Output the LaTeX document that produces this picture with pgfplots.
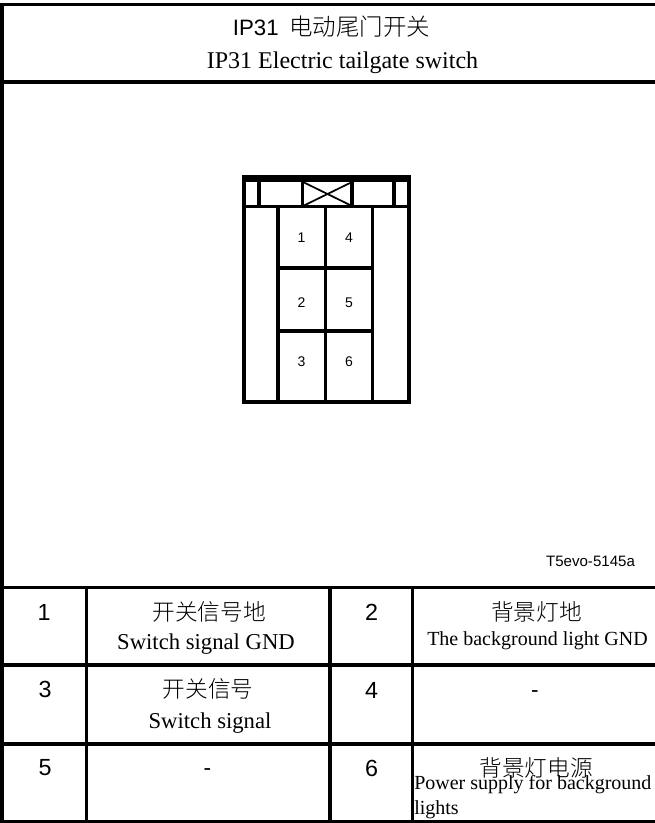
\documentclass[border=0pt]{standalone}
\usepackage{pgfplots}
\pgfplotsset{compat=1.18}
\usepackage{fontspec}
\setmainfont{Liberation Serif}
\newfontfamily\cjk{Noto Sans CJK SC}[UprightFont={* Light}]
\newfontfamily\hv{Liberation Sans}
\newcommand{\T}[4]{\node[inner sep=0pt,#1] at (axis cs:#2,#3) {#4};}
\begin{document}
\begin{tikzpicture}
\useasboundingbox (0,0) rectangle (491.25pt,617.25pt);
\begin{axis}[at={(0,0)},anchor=south west,scale only axis,width=491.25pt,height=617.25pt,
  xmin=0,xmax=655,ymin=0,ymax=823,y dir=reverse,hide axis,clip=false]
% table frame
\addplot[black,line width=2.5pt,line cap=square] coordinates {(2,4.3)(655,4.3)};
\addplot[black,line width=2.4pt] coordinates {(2,3)(2,823)};
\addplot[black,line width=2.8pt] coordinates {(2,82)(655,82)};
\addplot[black,line width=2.5pt] coordinates {(2,587.7)(655,587.7)};
\addplot[black,line width=2.4pt] coordinates {(2,665)(655,665)};
\addplot[black,line width=2.4pt] coordinates {(2,744)(655,744)};
\addplot[black,line width=1.8pt] coordinates {(2,821.5)(655,821.5)};
\addplot[black,line width=2.4pt] coordinates {(86.5,588)(86.5,823)};
\addplot[black,line width=2.4pt] coordinates {(330,588)(330,823)};
\addplot[black,line width=2.4pt] coordinates {(412.5,588)(412.5,823)};
% connector
\addplot[black,line width=3pt,line cap=square] coordinates {(244,178)(409,178)(409,402)(244,402)(244,178)};
\addplot[black,line width=5.5pt] coordinates {(242,178.7)(411,178.7)};
\addplot[black,line width=2.5pt] coordinates {(244,206.7)(409,206.7)};
\addplot[black,line width=2.3pt] coordinates {(259,180)(259,207)};
\addplot[black,line width=2.3pt] coordinates {(302.7,180)(302.7,207)};
\addplot[black,line width=2.3pt] coordinates {(352,180)(352,207)};
\addplot[black,line width=2.3pt] coordinates {(394,180)(394,207)};
\addplot[black,line width=2.3pt] coordinates {(278,207)(278,402)};
\addplot[black,line width=2.3pt] coordinates {(325.7,207)(325.7,402)};
\addplot[black,line width=2.3pt] coordinates {(372.7,207)(372.7,402)};
\addplot[black,line width=2.3pt] coordinates {(278,268)(372,268)};
\addplot[black,line width=2.3pt] coordinates {(278,331)(372,331)};
\addplot[black,line width=1.3pt] coordinates {(303,182)(352,206)};
\addplot[black,line width=1.3pt] coordinates {(303,206)(352,182)};
% connector labels
\newcommand{\PIN}{\hv\fontsize{10.5}{12}\selectfont}
\T{}{301.5}{238}{\PIN 1}
\T{}{349}{238}{\PIN 4}
\T{}{301.5}{303}{\PIN 2}
\T{}{349}{303}{\PIN 5}
\T{}{301.5}{362}{\PIN 3}
\T{}{349}{362}{\PIN 6}
% title
\T{}{331.5}{27}{{\hv\fontsize{16.7}{20}\selectfont IP31}\hspace{8pt}{\cjk\fontsize{17.6}{20}\selectfont 电动尾门开关}}
\T{}{342.5}{63}{\fontsize{18}{20}\selectfont IP31 Electric tailgate switch}
\T{}{590.5}{561}{\hv\fontsize{11.3}{13}\selectfont T5evo-5145a}
% table
\newcommand{\NUM}{\hv\fontsize{17.5}{20}\selectfont}
\newcommand{\CN}{\cjk\fontsize{17}{20}\selectfont}
\newcommand{\EN}{\fontsize{17}{20}\selectfont}
\newcommand{\ENS}{\fontsize{15}{18}\selectfont}
\T{}{44}{612}{\NUM 1}
\T{}{371.5}{612}{\NUM 2}
\T{}{45}{689}{\NUM 3}
\T{}{371.5}{690}{\NUM 4}
\T{}{45}{768}{\NUM 5}
\T{}{371.5}{768}{\NUM 6}
\T{}{209}{612}{\CN 开关信号地}
\T{}{206}{644}{\EN Switch signal GND}
\T{}{536.5}{612}{\CN 背景灯地}
\T{}{537.5}{641}{\ENS The background light GND}
\T{}{208}{689}{\CN 开关信号}
\T{}{210}{723}{\EN Switch signal}
\T{}{207.5}{772}{\hv\fontsize{17}{20}\selectfont -}
\T{}{535}{694}{\hv\fontsize{17}{20}\selectfont -}
\T{}{536}{768}{\CN 背景灯电源}
\T{anchor=west}{414}{785}{\ENS Power supply for background}
\T{anchor=west}{414}{810}{\ENS lights}
\end{axis}
\end{tikzpicture}
\end{document}
